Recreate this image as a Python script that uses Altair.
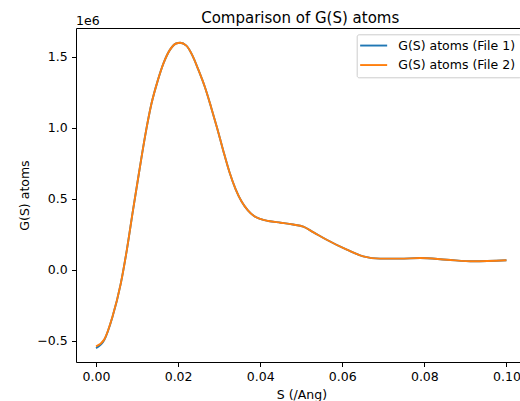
import altair as alt
import pandas as pd

# Data
s_values = [0.000, 0.002, 0.004, 0.006, 0.0075, 0.009, 0.0105, 0.012, 0.0135, 0.015,
            0.0165, 0.018, 0.0195, 0.0205, 0.022, 0.0235, 0.025, 0.0265, 0.028, 0.0295,
            0.031, 0.0325, 0.034, 0.0355, 0.037, 0.0385, 0.040, 0.042, 0.045, 0.048,
            0.0505, 0.053, 0.0562, 0.0611, 0.0651, 0.0692, 0.074, 0.079, 0.0855, 0.092,
            0.100]
g_file2 = [-538000, -490000, -330000, -100000, 140000, 420000, 690000, 950000, 1170000, 1330000,
           1460000, 1550000, 1595000, 1600000, 1580000, 1510000, 1405000, 1290000, 1150000, 1000000,
           840000, 690000, 570000, 480000, 420000, 380000, 360000, 345000, 333000, 320000,
           305000, 265000, 213000, 143000, 96000, 80000, 80000, 84000, 72000, 61000,
           68000]
g_file1 = [-550000, -493000, -331000, -100000, 140000, 420000, 690000, 950000, 1170000, 1330000,
           1460000, 1550000, 1595000, 1600000, 1580000, 1510000, 1405000, 1290000, 1150000, 1000000,
           840000, 690000, 570000, 480000, 420000, 380000, 360000, 345000, 333000, 320000,
           305000, 265000, 213000, 143000, 96000, 80000, 80000, 84000, 72000, 61000,
           68000]
series_names = ["G(S) atoms (File 1)", "G(S) atoms (File 2)"]
series_colors = ["#1f77b4", "#ff7f0e"]
x_ticks = [0.00, 0.02, 0.04, 0.06, 0.08, 0.10]
y_ticks = [-500000, 0, 500000, 1000000, 1500000]

rows = []
for name, vals in zip(series_names, [g_file1, g_file2]):
    for s, g in zip(s_values, vals):
        rows.append({"S": s, "G": g, "series": name})
df = pd.DataFrame(rows)

FONT = "DejaVu Sans"
FS = 12.5

xscale = alt.Scale(domain=[-0.00488, 0.1033], nice=False, zero=False)
yscale = alt.Scale(domain=[-648000, 1704000], nice=False, zero=False)

yaxis = alt.Axis(values=y_ticks, labelExpr="format(datum.value/1e6, '.1f')",
                 title="G(S) atoms", titleX=-52, titleY=167, titleAngle=270,
                 titleAlign="center", titleBaseline="middle")

lines = alt.Chart(df).mark_line(strokeWidth=1.9, clip=True, interpolate="monotone").encode(
    x=alt.X("S:Q", scale=xscale,
            axis=alt.Axis(values=x_ticks, format=".2f", title="S (/Ang)",
                          titleX=225.4, titleY=26, titleBaseline="top", titleAlign="center")),
    y=alt.Y("G:Q", scale=yscale, axis=yaxis),
    color=alt.Color("series:N", scale=alt.Scale(domain=series_names, range=series_colors),
                    legend=alt.Legend(title=None)),
)

top = alt.Chart(df).mark_line(opacity=0).encode(
    x=alt.X("S:Q", scale=xscale,
            axis=alt.Axis(orient="top", labels=False, ticks=False, title=None)),
    y=alt.Y("G:Q", scale=yscale, axis=yaxis),
)

offset_txt = alt.Chart(pd.DataFrame({"t": ["1e6"]})).mark_text(
    align="left", baseline="alphabetic", fontSize=FS, font=FONT, color="black"
).encode(text="t:N", x=alt.value(0), y=alt.value(-3))

chart = alt.layer(lines, top, offset_txt).resolve_axis(x="independent").properties(
    width=444, height=334,
    autosize=alt.AutoSizeParams(type="none"),
    padding={"left": 76, "top": 28, "right": 0, "bottom": 39},
    title=alt.TitleParams("Comparison of G(S) atoms", fontSize=15, font=FONT,
                          fontWeight="normal", frame="group", anchor="middle",
                          dx=2.2, offset=-11, color="black"),
).configure_view(stroke=None).configure_axis(
    grid=False, domainColor="black", domainWidth=1.0, tickColor="black", tickWidth=1.0,
    tickSize=4.5, labelPadding=4.4, labelFontSize=FS, labelFont=FONT, labelColor="black",
    titleFontSize=FS, titleFont=FONT, titleColor="black", titleFontWeight="normal",
).configure_legend(
    orient="none", legendX=280.7, legendY=6.3, symbolType="M-1.56,0H3.84", symbolSize=100,
    symbolStrokeWidth=1.9, labelFontSize=FS, labelFont=FONT, labelColor="black",
    labelOffset=24, padding=5, rowPadding=6.5, strokeColor="#cccccc", fillColor="white",
    cornerRadius=2, labelLimit=300,
)

chart.save("out.html", embed_options={"renderer": "svg", "actions": False})
